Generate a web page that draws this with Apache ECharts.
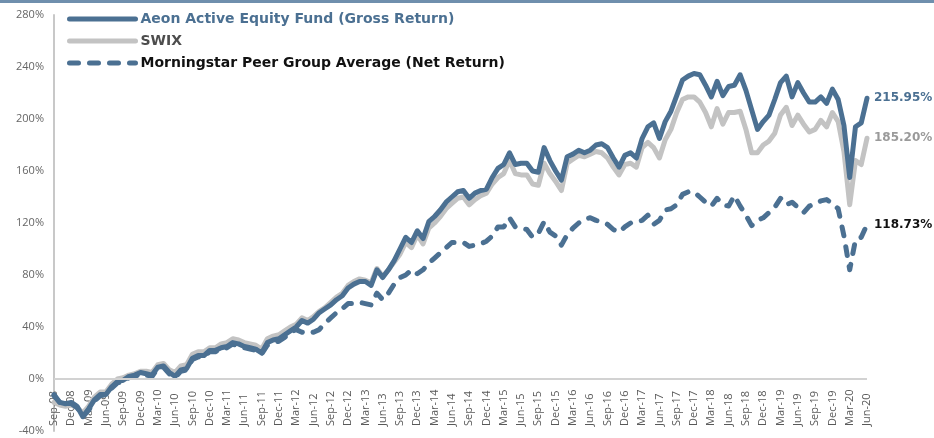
<!DOCTYPE html>
<html>
<head>
<meta charset="utf-8">
<script src="https://cdn.jsdelivr.net/npm/echarts@6/dist/echarts.min.js"></script>
<style>
  html, body { margin: 0; padding: 0; background: #fff; }
  #chart { width: 934px; height: 438px; }
</style>
</head>
<body>
<div id="chart"></div>
<script>
// month labels Sep-08 .. Jun-20 (one per month, every 3rd is shown)
const monthNames = ['Jan', 'Feb', 'Mar', 'Apr', 'May', 'Jun', 'Jul', 'Aug', 'Sep', 'Oct', 'Nov', 'Dec']
const months = []
for (let k = 0; k < 142; k++) {
  const m = (8 + k) % 12
  const y = 8 + Math.floor((8 + k) / 12)
  months.push(monthNames[m] + '-' + (y < 10 ? '0' + y : y))
}

// cumulative returns in %
const aeon = [
  -12, -18, -19, -18, -21, -29, -23, -16, -12, -12,
  -6, -2, -1, 2, 3, 5, 4, 3, 9, 10,
  5, 2, 7, 8, 16, 18, 18, 22, 22, 24,
  25, 28, 27, 25, 24, 23, 20, 28, 30, 31,
  34, 37, 40, 45, 43, 46, 51, 54, 57, 61,
  64, 70, 73, 75, 75, 72, 84, 78, 84, 91,
  100, 109, 105, 114, 108, 121, 125, 130, 136, 140,
  144, 145, 139, 143, 145, 146, 155, 162, 165, 174,
  165, 166, 166, 160, 159, 178, 168, 160, 153, 171,
  173, 176, 174, 176, 180, 181, 178, 170, 163, 172,
  174, 170, 185, 194, 197, 185, 198, 206, 218, 230,
  233, 235, 234, 226, 217, 229, 218, 225, 226, 234,
  222, 207, 192, 198, 203, 215, 228, 233, 217, 228,
  220, 213, 213, 217, 212, 223, 215, 195, 155, 194,
  197, 215.95
]
const swix = [
  -18, -20, -21, -20, -22, -26, -21, -14, -10, -10,
  -4, 0, 1, 3, 4, 6, 6, 5, 11, 12,
  7, 5, 10, 11, 19, 21, 21, 24, 24, 27,
  28, 31, 30, 28, 27, 26, 23, 31, 33, 34,
  37, 40, 42, 47, 45, 48, 52, 55, 59, 63,
  66, 72, 75, 77, 76, 74, 85, 79, 84, 90,
  96, 105, 101, 111, 104, 116, 120, 125, 131, 135,
  139, 140, 134, 138, 141, 143, 150, 155, 158, 168,
  158, 157, 157, 150, 149, 166, 158, 152, 145, 166,
  169, 172, 171, 173, 175, 174, 170, 163, 157, 165,
  166, 163, 178, 182, 178, 170, 184, 192, 205, 215,
  217, 217, 213, 205, 194, 208, 196, 205, 205, 206,
  192, 174, 174, 180, 183, 189, 203, 209, 195, 203,
  196, 190, 192, 199, 194, 205, 198, 175, 134, 168,
  165, 185.2
]
const peers = [
  -13, -18, -19, -19, -22, -29, -24, -17, -13, -12,
  -7, -3, -2, 1, 2, 4, 3, 2, 8, 9,
  4, 1, 6, 7, 15, 17, 17, 21, 21, 23,
  24, 27, 25, 24, 23, 22, 19, 26, 28, 29,
  32, 36, 38, 36, 35, 36, 38, 43, 47, 51,
  54, 58, 58, 59, 58, 57, 66, 61, 66, 73,
  78, 80, 84, 81, 84, 89, 93, 97, 101, 105,
  105, 105, 102, 103, 104, 106, 110, 117, 117, 124,
  117, 116, 115, 109, 112, 121, 113, 110, 103, 111,
  116, 120, 123, 124, 122, 121, 119, 115, 113, 117,
  120, 121, 122, 126, 119, 122, 130, 131, 134, 142,
  144, 144, 140, 136, 133, 139, 134, 133, 141, 133,
  126, 118, 122, 124, 128, 132, 139, 134, 136, 132,
  128, 133, 135, 137, 138, 135, 131, 110, 84, 107,
  109, 118.73
]

const names = ['Aeon Active Equity Fund (Gross Return)', 'SWIX', 'Morningstar Peer Group Average (Net Return)']
const blue = '#4b7092'
const grey = '#c3c3c3'

const myChart = echarts.init(document.getElementById('chart'))
myChart.setOption({
  animation: false,
  grid: { left: 54, right: 67, top: 15, bottom: 7 },
  // thin bar along the top edge
  graphic: [{
    type: 'rect',
    shape: { x: 0, y: 0, width: 934, height: 3 },
    style: { fill: '#6f8fad' }
  }],
  legend: {
    orient: 'vertical',
    left: 62,
    top: 7,
    itemWidth: 66,
    itemHeight: 14,
    itemGap: 8,
    itemStyle: { opacity: 0 }, // no dot in the legend icon
    lineStyle: { width: 5 },
    textStyle: { fontFamily: 'DejaVu Sans', fontSize: 14, fontWeight: 'bold' },
    data: [
      { name: names[0], textStyle: { color: blue } },
      { name: names[1], textStyle: { color: '#4d4d4d' } },
      { name: names[2], textStyle: { color: '#111' } }
    ]
  },
  xAxis: {
    type: 'category',
    boundaryGap: false,
    data: months,
    axisLine: { show: false, onZero: false },
    axisTick: { show: false },
    axisLabel: {
      interval: 2,
      rotate: 90,
      inside: true,
      margin: 5,
      color: '#595959',
      fontFamily: 'Open Sans',
      fontSize: 11
    }
  },
  yAxis: {
    type: 'value',
    min: -40,
    max: 280,
    interval: 40,
    axisLine: { show: true, lineStyle: { color: '#c8c8c8', width: 2 } },
    axisTick: { show: false },
    splitLine: { show: false },
    axisLabel: {
      formatter: '{value}%',
      margin: 10,
      color: '#666',
      fontFamily: 'Open Sans',
      fontSize: 11
    }
  },
  series: [
    {
      name: names[0],
      type: 'line',
      data: aeon,
      symbol: 'none',
      z: 3,
      lineStyle: { color: blue, width: 5, join: 'round', cap: 'round' },
      itemStyle: { color: blue },
      endLabel: {
        show: true,
        distance: 7,
        formatter: p => p.value.toFixed(2) + '%',
        color: blue,
        fontFamily: 'DejaVu Sans',
        fontSize: 12,
        fontWeight: 'bold'
      },
      markLine: {
        silent: true,
        symbol: ['none', 'none'],
        label: { show: false },
        lineStyle: { color: '#d2d2d2', width: 2, type: 'solid' },
        data: [{ yAxis: 0 }]
      }
    },
    {
      name: names[1],
      type: 'line',
      data: swix,
      symbol: 'none',
      z: 2,
      lineStyle: { color: grey, width: 5, join: 'round', cap: 'round' },
      itemStyle: { color: grey },
      endLabel: {
        show: true,
        distance: 7,
        formatter: p => p.value.toFixed(2) + '%',
        color: '#9a9a9a',
        fontFamily: 'DejaVu Sans',
        fontSize: 12,
        fontWeight: 'bold'
      }
    },
    {
      name: names[2],
      type: 'line',
      data: peers,
      symbol: 'none',
      z: 4,
      lineStyle: { color: blue, width: 5, type: [9, 11], cap: 'round', join: 'round' },
      itemStyle: { color: blue },
      endLabel: {
        show: true,
        distance: 7,
        formatter: p => p.value.toFixed(2) + '%',
        color: '#111',
        fontFamily: 'DejaVu Sans',
        fontSize: 12,
        fontWeight: 'bold'
      }
    }
  ]
})
</script>
</body>
</html>
